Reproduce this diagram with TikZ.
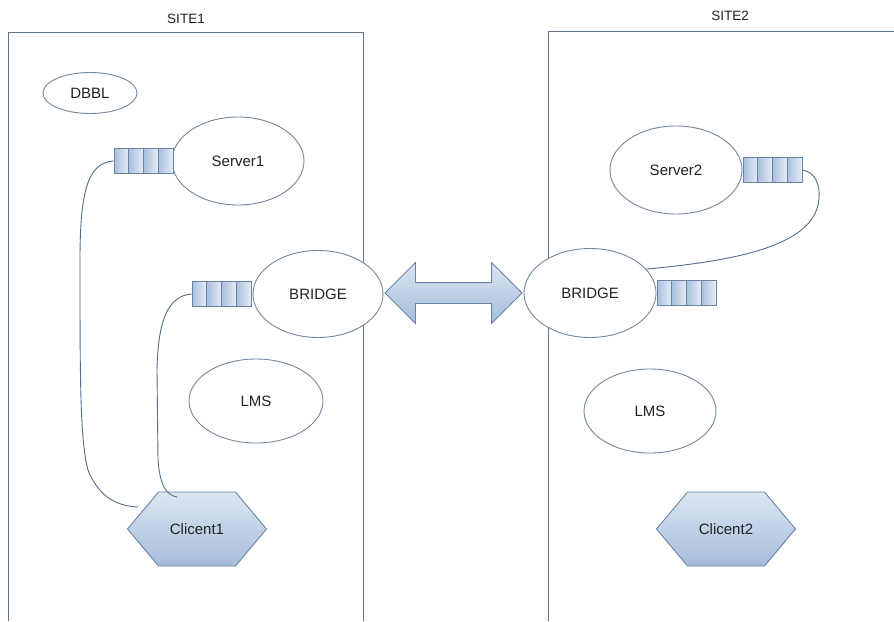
\documentclass[tikz,border=0pt]{standalone}
\usepackage{fontspec}
\setmainfont{Liberation Sans}
\usetikzlibrary{shapes.geometric,shapes.symbols,shapes.arrows}
\definecolor{conn}{HTML}{566D8C}
\definecolor{ellc}{HTML}{74869B}
\definecolor{boxc}{HTML}{6A84A8}
\definecolor{sitec}{HTML}{5F7389}
\definecolor{qL}{HTML}{A9BFDD}
\definecolor{qR}{HTML}{E6EDF7}
\definecolor{hT}{HTML}{DCE6F2}
\definecolor{hB}{HTML}{A5BCDA}
\definecolor{txt}{HTML}{222222}
\begin{document}
\begin{tikzpicture}[x=1pt,y=-1pt,
  lbl/.style={font=\fontsize{15}{17}\selectfont,text=txt},
  ell/.style={ellipse,draw=ellc,fill=white,line width=0.9pt,inner sep=0,lbl},
  cell/.style={rectangle,draw=boxc,left color=qL,right color=qR,minimum width=14.75pt,minimum height=25pt,inner sep=0,line width=0.9pt},
  hexa/.style={signal,signal to=west and east,signal pointer angle=100,draw=boxc,top color=hT,bottom color=hB,minimum width=139pt,minimum height=74pt,inner sep=0,line width=0.9pt,lbl},
  dblarrow/.style={double arrow,draw=boxc,top color=hT,bottom color=hB,minimum height=137pt,double arrow head extend=20pt,inner xsep=0pt,inner ysep=10pt,line width=0.9pt},
  connector/.style={draw=conn,line width=0.9pt},
  siteline/.style={draw=sitec,line width=0.9pt},
  sitelbl/.style={font=\fontsize{13.5}{15}\selectfont,text=txt}
]
\useasboundingbox (0,0) rectangle (894,621);
\fill[white] (0,0) rectangle (894,621);

% site frames
\draw[siteline] (8,621) -- (8,32) -- (363,32) -- (363,621);
\draw[siteline] (548,621) -- (548,31) -- (894,31);
\node[sitelbl] (site1) at (186,19) {SITE1};
\node[sitelbl] (site2) at (730,16) {SITE2};

% ellipses
\node[ell,minimum width=94pt,minimum height=41pt] (dbbl) at (90,93) {DBBL};
\node[ell,minimum width=132pt,minimum height=88pt] (srv1) at (238,161) {Server1};
\node[ell,minimum width=130pt,minimum height=87pt] (br1) at (318,294) {BRIDGE};
\node[ell,minimum width=134pt,minimum height=84pt] (lms1) at (256,401) {LMS};
\node[ell,minimum width=132pt,minimum height=88pt] (srv2) at (676,170) {Server2};
\node[ell,minimum width=132pt,minimum height=89pt] (br2) at (590,293) {BRIDGE};
\node[ell,minimum width=132pt,minimum height=84pt] (lms2) at (650,411) {LMS};

% queues
\foreach \i in {0,...,3} \node[cell] (sq\i) at ({114+7.375+14.75*\i},161) {};
\foreach \i in {0,...,3} \node[cell] (bq\i) at ({192+7.375+14.75*\i},294) {};
\foreach \i in {0,...,3} \node[cell] (tq\i) at ({743+7.375+14.75*\i},170) {};
\foreach \i in {0,...,3} \node[cell] (rq\i) at ({657+7.375+14.75*\i},293) {};

% clients
\node[hexa] (c1) at (197,529) {Clicent1};
\node[hexa] (c2) at (726,529) {Clicent2};

% double arrow between bridges
\node[dblarrow] (link) at (453.5,293) {};

% connector ends
\coordinate (c1a) at (138,507);
\coordinate (c1b) at (177,497);

\draw[connector] (sq0.west) .. controls (88,163) and (80,190) .. (80,260)
  .. controls (80,380) and (80,440) .. (88,470)
  .. controls (100,500) and (120,506) .. (c1a);
\draw[connector] (bq0.west) .. controls (168,296) and (158,320) .. (157,370)
  -- (158,460) .. controls (160,485) and (166,495) .. (c1b);
\draw[connector] (tq3.east) .. controls (815,172) and (822,185) .. (818,205)
  .. controls (808,250) and (720,262) .. (br2.23);
\end{tikzpicture}
\end{document}
